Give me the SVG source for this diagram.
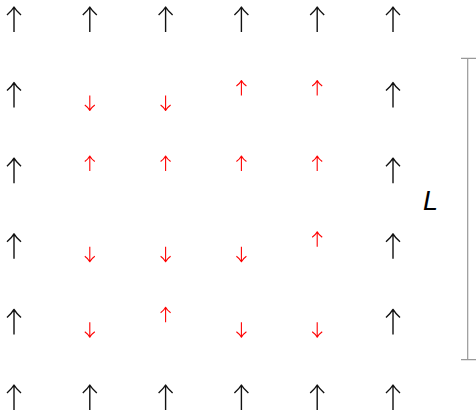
<svg xmlns="http://www.w3.org/2000/svg" xmlns:xlink="http://www.w3.org/1999/xlink" width="476" height="412" viewBox="0 0 476 412">
<style>
.blk{fill:none;stroke:#111;stroke-width:1.4;stroke-linecap:butt;stroke-linejoin:round}
.red{fill:none;stroke:#ff0000;stroke-width:1.1;stroke-linejoin:round}
.bar{fill:none;stroke:#999;stroke-width:1.2}
.lbl{font-family:"Liberation Sans",Arial,sans-serif;font-style:italic;font-size:27px;fill:#000}
</style>
<defs>
<g id="bu"><path class="blk" d="M0,12.5 V-12.5 M-7,-4.5 Q-2,-9 0,-12.5 Q2,-9 7,-4.5"/></g>
<g id="ru"><path class="red" d="M0,0 V-15 M-5,-9.5 Q-1.5,-12 0,-15 Q1.5,-12 5,-9.5"/></g>
<g id="rd"><path class="red" d="M0,0 V15 M-5,9.5 Q-1.5,12 0,15 Q1.5,12 5,9.5"/></g>
</defs>
<g id="boundary">
<use xlink:href="#bu" x="14" y="19.5"/><use xlink:href="#bu" x="89.8" y="19.5"/><use xlink:href="#bu" x="165.6" y="19.5"/><use xlink:href="#bu" x="241.4" y="19.5"/><use xlink:href="#bu" x="317.2" y="19.5"/><use xlink:href="#bu" x="393" y="19.5"/>
<use xlink:href="#bu" x="14" y="95.1"/><use xlink:href="#bu" x="393" y="95.1"/>
<use xlink:href="#bu" x="14" y="170.7"/><use xlink:href="#bu" x="393" y="170.7"/>
<use xlink:href="#bu" x="14" y="246.3"/><use xlink:href="#bu" x="393" y="246.3"/>
<use xlink:href="#bu" x="14" y="321.9"/><use xlink:href="#bu" x="393" y="321.9"/>
<use xlink:href="#bu" x="14" y="397.5"/><use xlink:href="#bu" x="89.8" y="397.5"/><use xlink:href="#bu" x="165.6" y="397.5"/><use xlink:href="#bu" x="241.4" y="397.5"/><use xlink:href="#bu" x="317.2" y="397.5"/><use xlink:href="#bu" x="393" y="397.5"/>
</g>
<g id="interior">
<use xlink:href="#rd" x="89.8" y="95.5"/><use xlink:href="#rd" x="165.6" y="95.5"/><use xlink:href="#ru" x="241.4" y="95.5"/><use xlink:href="#ru" x="317.2" y="95.5"/>
<use xlink:href="#ru" x="89.8" y="171"/><use xlink:href="#ru" x="165.6" y="171"/><use xlink:href="#ru" x="241.4" y="171"/><use xlink:href="#ru" x="317.2" y="171"/>
<use xlink:href="#rd" x="89.8" y="246.7"/><use xlink:href="#rd" x="165.6" y="246.7"/><use xlink:href="#rd" x="241.4" y="246.7"/><use xlink:href="#ru" x="317.2" y="246.7"/>
<use xlink:href="#rd" x="89.8" y="322.3"/><use xlink:href="#ru" x="165.6" y="322.3"/><use xlink:href="#rd" x="241.4" y="322.3"/><use xlink:href="#rd" x="317.2" y="322.3"/>
</g>
<g id="scale">
<path class="bar" d="M467.7,58.3 V359.7 M461,58.3 H476 M461,359.7 H476"/>
<text class="lbl" x="423" y="210">L</text>
</g>
</svg>
